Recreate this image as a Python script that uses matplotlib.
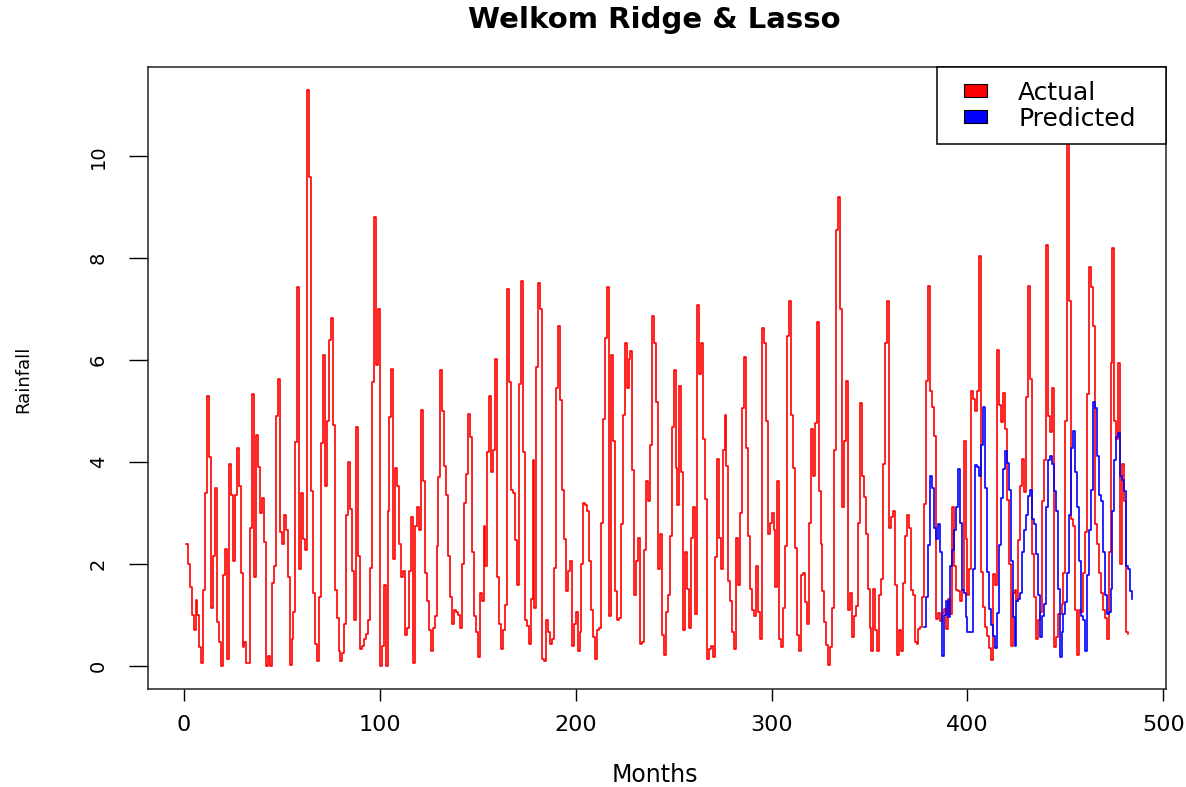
import numpy as np
import matplotlib.pyplot as plt
from matplotlib.patches import Patch, Rectangle
from matplotlib.legend_handler import HandlerPatch

# monthly rainfall (month 1 .. 484)
actual = [
    2.4, 2.0, 1.55, 1.0, 0.7, 1.3, 1.0, 0.37, 0.05, 1.5,
    3.4, 5.3, 4.1, 1.13, 2.16, 3.5, 0.86, 0.48, 0.0, 1.78,
    2.3, 0.14, 3.96, 3.35, 2.05, 3.35, 4.27, 3.54, 1.82, 0.37,
    0.48, 0.06, 0.06, 2.7, 5.34, 1.74, 4.53, 3.9, 3.0, 3.3,
    2.43, 0.0, 0.2, 0.0, 1.63, 1.97, 4.9, 5.64, 2.62, 2.4,
    2.97, 2.66, 1.74, 0.02, 0.52, 1.05, 4.4, 7.44, 1.9, 3.4,
    2.5, 2.28, 11.3, 9.6, 3.43, 1.44, 0.44, 0.1, 1.36, 4.38,
    6.1, 3.54, 4.8, 6.4, 6.83, 4.72, 1.5, 0.94, 0.29, 0.1,
    0.25, 0.83, 2.97, 4.0, 3.08, 1.86, 0.9, 4.69, 2.16, 0.33,
    0.4, 0.52, 0.63, 0.9, 1.93, 5.57, 8.8, 5.9, 7.0,
    0.0, 0.4, 1.59, 0.0, 3.04, 4.88, 5.83, 2.1, 3.88, 3.54,
    2.39, 1.74, 1.86, 0.6, 0.75, 1.86, 2.93, 0.06, 2.74, 3.12,
    2.66, 5.03, 3.62, 1.82, 1.28, 0.7, 0.29, 0.75, 0.98, 2.35,
    3.7, 5.8, 5.0, 3.92, 3.35, 2.16, 1.36, 0.83, 1.09, 1.05,
    1.0, 0.75, 2.0, 3.2, 3.77, 4.95, 4.5, 2.24, 0.98, 0.67,
    0.18, 1.44, 1.28, 2.74, 1.97, 4.19, 5.3, 3.8, 4.23, 6.02,
    1.74, 0.83, 0.33, 0.7, 1.2, 7.4, 5.57, 3.46, 3.39, 2.47,
    1.59, 5.53, 7.55, 4.19, 0.9, 0.79, 0.44, 1.32, 4.04, 1.13,
    5.87, 7.52, 7.0, 0.14, 0.1, 0.9, 0.67, 0.44, 0.52, 1.93,
    5.45, 6.67, 5.22, 3.46, 2.5, 1.48, 1.86, 2.05, 0.4, 0.83,
    1.05, 0.3, 0.67, 2.0, 3.2, 3.16, 3.04, 2.05, 1.09, 0.56,
    0.14, 0.71, 0.75, 2.81, 4.84, 6.44, 7.44, 0.98, 6.1, 4.42,
    1.48, 0.9, 0.94, 2.78, 4.92, 6.33, 5.45, 6.02, 6.18, 3.85,
    1.4, 2.05, 2.51, 0.44, 0.48, 2.28, 3.62, 3.23, 4.34, 6.87,
    6.33, 5.18, 1.9, 2.58, 0.6, 0.21, 1.05, 1.4, 2.55,
    4.69, 5.8, 3.88, 3.16, 5.49, 3.8, 0.71, 2.24, 1.51, 0.75,
    2.51, 3.12, 1.02, 7.09, 5.72, 6.33, 4.46, 3.27, 0.14, 0.33,
    0.4, 0.18, 2.13, 4.07, 2.51, 1.9, 4.23, 4.92, 3.92, 1.67,
    1.28, 0.67, 0.33, 2.51, 1.59, 3.0, 5.07, 6.06, 4.27, 2.55,
    1.51, 1.09, 0.98, 1.97, 1.05, 0.52, 6.64, 6.33, 4.8, 2.58,
    2.81, 3.0, 2.66, 1.55, 3.62, 0.52, 0.37, 1.13, 2.35, 6.48,
    7.17, 4.92, 3.88, 2.32, 0.6, 0.29, 1.78, 1.82, 1.25, 0.83,
    2.81, 4.65, 3.73, 4.76, 6.75, 3.43, 2.39, 1.48, 0.86, 0.41,
    0.02, 0.37, 1.13, 4.23, 8.55, 9.2, 7.0, 3.12, 4.42, 5.6,
    1.09, 1.44, 0.56, 0.98, 1.17, 2.81, 5.15, 3.73, 3.31, 2.58,
    1.51, 0.75, 0.29, 1.51, 0.71, 0.29, 1.4, 1.7, 3.96, 6.33,
    7.17, 2.7, 2.93, 3.04, 1.59, 0.21, 0.71, 0.29, 1.63, 2.55,
    2.97, 2.7, 1.5, 1.4, 0.47, 0.43, 0.73, 0.77, 1.36, 3.18, 5.59,
    7.46, 5.4, 5.09, 4.52, 0.93, 1.04, 0.89, 1.04, 1.12, 0.73,
    1.32, 1.01, 3.11, 1.97, 1.5, 1.47, 1.28, 1.5, 4.41, 2.5,
    1.4, 1.9, 5.4, 5.24, 5.01, 5.4, 8.05, 1.85, 1.16, 0.77,
    0.58, 0.35, 0.12, 1.81, 1.58, 6.2, 5.13, 4.79, 5.36, 4.64,
    3.26, 2.01, 0.4, 1.43, 1.5, 1.28, 2.47, 3.54, 4.07, 3.41,
    5.28, 7.46, 5.63, 2.2, 1.36,
    0.52, 0.9, 1.05, 3.23, 4.04, 8.26, 4.91, 4.6, 5.45, 0.37,
    0.56, 1.02, 1.02, 1.21, 1.82, 4.8, 10.8, 7.17, 2.89, 2.74,
    1.09, 0.21, 1.09, 1.05, 1.82, 2.62, 5.34, 7.82, 7.44, 6.67,
    2.78, 2.39, 1.82, 1.44, 1.09, 0.94, 0.52, 2.24, 5.95, 8.2,
    4.8, 4.46, 5.95, 2.01, 3.96, 3.23, 0.67, 0.63,
]

# predicted values for the test period
pred_start = 378
predicted = [
    0.77, 1.36, 2.38, 3.72, 3.49, 2.7, 2.5, 2.78, 2.24, 0.2,
    1.0, 1.28, 0.96, 1.97, 2.28, 2.66, 3.11, 3.87, 2.81, 1.5,
    1.43, 0.96, 0.66, 0.66, 0.66, 1.9, 3.95, 3.91, 3.72, 4.34,
    5.09, 3.49, 1.85, 1.12, 0.81, 0.58, 0.35, 1.04, 2.38, 3.3,
    3.87, 4.22, 3.99, 3.45, 2.05, 0.96, 0.4, 1.28, 1.32, 1.43,
    2.24, 2.66, 2.97, 3.33, 3.45, 2.89, 2.78, 2.2, 1.4,
    0.56, 0.98, 1.21, 3.12, 4.04, 4.11, 3.96, 3.43, 3.04, 1.51,
    0.18, 0.67, 1.02, 1.25, 1.82, 2.97, 4.27, 4.61, 3.8, 3.12,
    2.05, 0.98, 0.9, 0.29, 1.78, 2.66, 3.46, 5.18, 5.07, 4.11,
    3.35, 3.23, 2.24, 1.4, 1.02, 1.05, 1.51, 3.04, 4.04, 4.5,
    4.57, 3.73, 3.65, 3.43, 1.97, 1.9, 1.48, 1.32,
]

x_ticks = [0, 100, 200, 300, 400, 500]
y_ticks = [0, 2, 4, 6, 8, 10]

months = np.arange(1, len(actual) + 1)
pred_months = np.arange(pred_start, pred_start + len(predicted))

plt.rcParams['font.family'] = ['DejaVu Sans']

fig = plt.figure(figsize=(11.86, 7.87), dpi=100)
ax = fig.add_axes([0.1248, 0.1245, 0.8582, 0.7904])

ax.plot(months, actual, color='red', lw=1.2, drawstyle='steps-post')
ax.plot(pred_months, predicted, color='blue', lw=1.2, drawstyle='steps-post')

# R style 4% padding
n = len(actual)
ax.set_xlim(1 - 0.04 * (n - 1), n + 0.04 * (n - 1))
ymax = max(actual)
ax.set_ylim(-0.04 * ymax, ymax * 1.04)

ax.set_xticks(x_ticks)
ax.set_yticks(y_ticks)
ax.tick_params(axis='x', length=8.6, width=1, pad=10, labelsize=16, direction='out')
ax.tick_params(axis='y', length=14, width=1, pad=15, labelsize=14, direction='out')
for lab in ax.get_yticklabels():
    lab.set_rotation(90)
    lab.set_va('center')
for sp in ax.spines.values():
    sp.set_linewidth(1.1)
    sp.set_color('#222222')

fig.text(0.552, 0.975, 'Welkom Ridge & Lasso', ha='center', va='center',
         fontsize=21, fontweight='bold')
fig.text(0.552, 0.0152, 'Months', ha='center', va='center', fontsize=17)
fig.text(0.0194, 0.518, 'Rainfall', ha='center', va='center', fontsize=13,
         rotation=90)

# legend: filled squares with black edge, square sitting right in a wider handle box
sq_w, sq_h = 22.6 * 0.72, 13 * 0.72


def square(legend, orig_handle, xdescent, ydescent, width, height, fontsize):
    return Rectangle((-xdescent + width - sq_w, -ydescent + (height - sq_h) / 2),
                     sq_w, sq_h)


handles = [Patch(facecolor='red', edgecolor='black', lw=0.8),
           Patch(facecolor='blue', edgecolor='black', lw=0.8)]
leg = ax.legend(handles, ['Actual', 'Predicted'], loc='upper right',
                bbox_to_anchor=(0.775, 0, 0.225, 1), mode='expand',
                borderaxespad=0, fontsize=18, handlelength=1.45,
                handleheight=0.55, handletextpad=1.25, borderpad=0.55,
                labelspacing=0.08, fancybox=False, framealpha=1,
                edgecolor='black',
                handler_map={Patch: HandlerPatch(patch_func=square)})
leg.get_frame().set_linewidth(1.1)

fig.savefig('out.png', dpi=100)
